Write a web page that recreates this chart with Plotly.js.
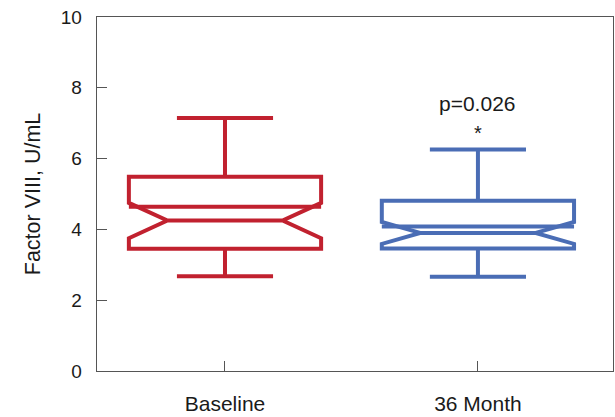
<!DOCTYPE html>
<html>
<head>
<meta charset="utf-8">
<script src="https://cdn.plot.ly/plotly-3.0.1.min.js"></script>
<style>html,body{margin:0;padding:0;background:#fff;}#chart{width:615px;height:417px;}</style>
</head>
<body>
<div id="chart"></div>
<script>
const categories = ['Baseline', '36 Month'];
const q1Values = [3.45, 3.46];
const medianValues = [4.25, 3.90];
const q3Values = [5.49, 4.81];
const lowerFences = [2.68, 2.66];
const upperFences = [7.15, 6.26];
const notchSpans = [0.50, 0.31];
const meanValues = [4.64, 4.08];
const yTicks = [0, 2, 4, 6, 8, 10];
const pLabel = 'p=0.026';
const pLabelY = 7.57;
const starY = 6.72;

const colors = ['#c1212f', '#4a6db5'];
const boxWidth = 0.76;
const fontFam = '"Liberation Sans", Arial, Helvetica, sans-serif';

const traces = categories.map((c, i) => ({
  type: 'box',
  x: [c],
  q1: [q1Values[i]],
  median: [medianValues[i]],
  q3: [q3Values[i]],
  lowerfence: [lowerFences[i]],
  upperfence: [upperFences[i]],
  notchspan: [notchSpans[i]],
  notched: true,
  notchwidth: 0.2,
  width: boxWidth,
  whiskerwidth: 0.5,
  line: {color: colors[i], width: 4},
  fillcolor: 'rgba(0,0,0,0)',
  boxpoints: false,
  hoverinfo: 'none',
  showlegend: false
}));

const shapes = categories.map((c, i) => ({
  type: 'line', xref: 'x', yref: 'y',
  x0: i - boxWidth / 2, x1: i + boxWidth / 2,
  y0: meanValues[i], y1: meanValues[i],
  line: {color: colors[i], width: 4}
}));

const layout = {
  width: 615, height: 417,
  margin: {l: 97, r: 2, t: 17, b: 46},
  paper_bgcolor: '#fff', plot_bgcolor: '#fff',
  font: {family: fontFam, color: '#1a1a1a'},
  xaxis: {
    type: 'category',
    categoryarray: categories,
    range: [-0.506, 1.534],
    showgrid: false, zeroline: false,
    showline: true, mirror: true, linecolor: '#555', linewidth: 1.3,
    ticks: 'inside', ticklen: 10, tickcolor: '#555', tickwidth: 1,
    tickfont: {size: 21, family: fontFam, color: '#1a1a1a'},
    ticklabelstandoff: 13
  },
  yaxis: {
    range: [0, 10],
    tickvals: yTicks,
    ticktext: yTicks.map(String),
    showgrid: false, zeroline: false,
    showline: true, mirror: true, linecolor: '#555', linewidth: 1.3,
    ticks: 'inside', ticklen: 10, tickcolor: '#555', tickwidth: 1,
    tickfont: {size: 19, family: fontFam, color: '#1a1a1a'},
    ticklabelstandoff: 10,
    title: {text: 'Factor VIII, U/mL', font: {size: 21.5, family: fontFam, color: '#1a1a1a'}, standoff: 14}
  },
  shapes: shapes,
  annotations: [
    {x: 1, y: pLabelY, xref: 'x', yref: 'y', text: pLabel, showarrow: false,
     font: {size: 21, family: fontFam, color: '#1a1a1a'}},
    {x: 1, y: starY, xref: 'x', yref: 'y', text: '*', showarrow: false,
     font: {size: 20, family: fontFam, color: '#1a1a1a'}}
  ]
};

Plotly.newPlot('chart', traces, layout, {displayModeBar: false, staticPlot: true});
</script>
</body>
</html>
